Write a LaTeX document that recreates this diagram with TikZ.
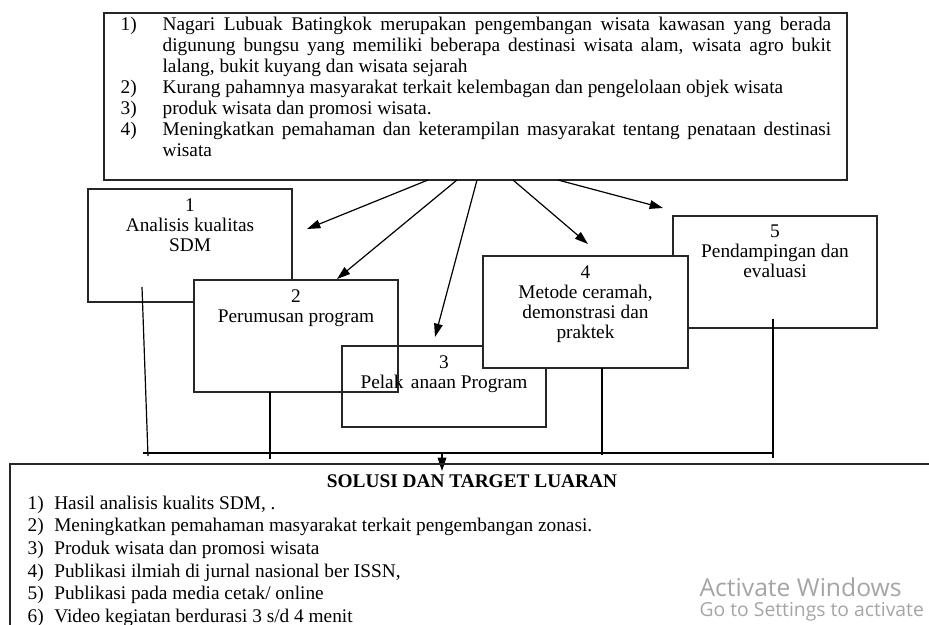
\documentclass[tikz,border=0pt]{standalone}
\usepackage{fontspec}
\setmainfont{Liberation Serif}
\newfontfamily\wmfont{Open Sans}
\usetikzlibrary{arrows.meta,fit,positioning}
\definecolor{wmgray}{RGB}{165,165,165}

\begin{document}
\begin{tikzpicture}
  [x=0.75pt,y=-0.75pt,line width=0.9pt,
   box/.style={draw=black!85,inner sep=0pt},
   lbl/.style={font=\fontsize{14.5}{15}\selectfont,align=center,inner sep=0pt,anchor=north},
   arr/.style={-{Triangle[length=10pt,width=6.5pt]}},
   wm/.style={text=wmgray,inner sep=0pt,anchor=west}]
  \useasboundingbox (0,0) rectangle (929,625);

  % kotak permasalahan
  \node[box,fit={(104,13) (847,180)}] (top) {};
  \node[anchor=north west,inner sep=0pt,text width=533pt,align=justify,
        font=\fontsize{14.5}{15.75}\selectfont] (toptext) at (120,16)
  {\noindent\hangindent=31.5pt\hangafter=1\makebox[31.5pt][l]{1)}Nagari Lubuak Batingkok merupakan pengembangan wisata kawasan yang berada\linebreak
   digunung bungsu yang memiliki beberapa destinasi wisata alam, wisata agro bukit\linebreak
   lalang, bukit kuyang dan wisata sejarah\par
   \noindent\hangindent=31.5pt\hangafter=1\makebox[31.5pt][l]{2)}Kurang pahamnya masyarakat terkait kelembagan dan pengelolaan objek wisata\par
   \noindent\hangindent=31.5pt\hangafter=1\makebox[31.5pt][l]{3)}produk wisata dan promosi wisata.\par
   \noindent\hangindent=31.5pt\hangafter=1\makebox[31.5pt][l]{4)}Meningkatkan pemahaman dan keterampilan masyarakat tentang penataan destinasi\linebreak
   wisata\par};

  % kotak kegiatan (urutan gambar menentukan tumpukan)
  \node[box,fit={(88,189) (292,302)}] (b1) {};
  \node[box,fill=white,fit={(194,280) (398,392)}] (b2) {};
  \node[box,fit={(342,346) (546,427)}] (b3) {};
  \node[box,fit={(673,216) (877,328)}] (b5) {};
  \node[box,fill=white,fit={(483,256) (688,368)}] (b4) {};

  \node[lbl,below=7pt of b1.north] (t1) {1\\Analisis kualitas\\SDM};
  \node[lbl,below=7.5pt of b2.north] (t2) {2\\Perumusan program};
  \node[lbl,below=7pt of b3.north] (t3) {3\\Pelak\hphantom{s}anaan Program};
  \node[lbl,below=7pt of b4.north] (t4) {4\\Metode ceramah,\\demonstrasi dan\\praktek};
  \node[lbl,below=7pt of b5.north] (t5) {5\\Pendampingan dan\\evaluasi};

  % panah dari kotak atas
  \coordinate (s1) at (428,180); \coordinate (e1) at (307,229);
  \coordinate (s2) at (457,180); \coordinate (e2) at (337,279);
  \coordinate (s3) at (477,180); \coordinate (e3) at (435,337);
  \coordinate (s4) at (513,180); \coordinate (e4) at (588,244);
  \coordinate (s5) at (558,180); \coordinate (e5) at (663,208);
  \foreach \from/\to in {s1/e1,s2/e2,s3/e3,s4/e4,s5/e5}
    \draw[arr] (\from) -- (\to);

  % garis penghubung ke solusi
  \coordinate (u1) at (142,287); \coordinate (v1) at (148,456);
  \coordinate (u2) at (270,392); \coordinate (v2) at (270,459);
  \coordinate (u4) at (602,368); \coordinate (v4) at (602,455);
  \coordinate (u5) at (773,319); \coordinate (v5) at (773,458);
  \foreach \from/\to in {u1/v1,u2/v2,u4/v4,u5/v5}
    \draw (\from) -- (\to);
  \coordinate (hl) at (143,453); \coordinate (hr) at (773,453);
  \draw (hl) -- (hr);
  \coordinate (m1) at (442,453); \coordinate (m2) at (442,471);
  \draw[arr] (m1) -- (m2);

  % kotak solusi
  \node[box,fit={(10,464) (950,650)}] (sol) {};
  \node[font=\fontsize{14.5}{17}\selectfont\bfseries,inner sep=0pt] (soltitle) at (472,481)
    {SOLUSI DAN TARGET LUARAN};
  \node[anchor=north west,inner sep=0pt,align=left,
        font=\fontsize{14.5}{17}\selectfont] (sollist) at (27,495)
  {\makebox[20pt][l]{1)}Hasil analisis kualits SDM, .\\
   \makebox[20pt][l]{2)}Meningkatkan pemahaman masyarakat terkait pengembangan zonasi.\\
   \makebox[20pt][l]{3)}Produk wisata dan promosi wisata\\
   \makebox[20pt][l]{4)}Publikasi ilmiah di jurnal nasional ber ISSN,\\
   \makebox[20pt][l]{5)}Publikasi pada media cetak/ online\\
   \makebox[20pt][l]{6)}Video kegiatan berdurasi 3 s/d 4 menit};

  %Tanda air
  \node[wm,font=\wmfont\fontsize{18.5}{19}\selectfont] (wm1) at (699,587) {Activate Windows};
  \node[wm,font=\wmfont\fontsize{14.5}{15}\selectfont] (wm2) at (699,612) {Go to Settings to activate};
\end{tikzpicture}
\end{document}
